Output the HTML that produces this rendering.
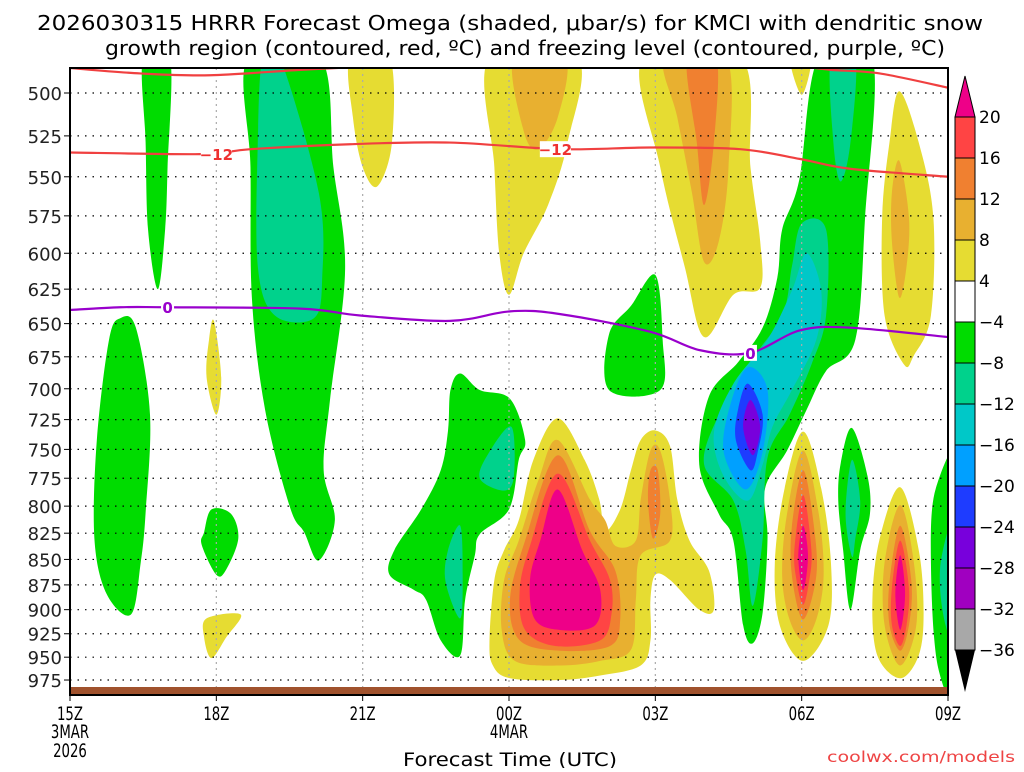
<!DOCTYPE html>
<html><head><meta charset="utf-8"><style>
body{margin:0;background:#fff;width:1024px;height:768px;overflow:hidden;font-family:"DejaVu Sans","Liberation Sans",sans-serif}
svg text{font-family:"DejaVu Sans","Liberation Sans",sans-serif}
</style></head><body>
<svg id="chart" width="1024" height="768" viewBox="0 0 1024 768" xmlns="http://www.w3.org/2000/svg">
<text x="37" y="30" font-size="20" textLength="946" lengthAdjust="spacingAndGlyphs" fill="#000">2026030315 HRRR Forecast Omega (shaded, μbar/s) for KMCI with dendritic snow</text>
<text x="105" y="55" font-size="20" textLength="840" lengthAdjust="spacingAndGlyphs" fill="#000">growth region (contoured, red, ºC) and freezing level (contoured, purple, ºC)</text>
<defs><clipPath id="plotclip"><rect x="70" y="68" width="878" height="627"/></clipPath></defs>
<g id="fills" clip-path="url(#plotclip)"></g>
<g id="grid"></g>
<g id="lines" clip-path="url(#plotclip)"></g>
<rect x="70" y="687" width="878" height="8" fill="#a0522d"/>
<rect x="70" y="68" width="878" height="627" fill="none" stroke="#000" stroke-width="2"/>
<g id="axes"></g>
<g id="cbar"></g>
<text x="403" y="766" font-size="19" textLength="214" lengthAdjust="spacingAndGlyphs" fill="#000">Forecast Time (UTC)</text>
<text x="827" y="762" font-size="15" textLength="188" lengthAdjust="spacingAndGlyphs" fill="#ee4444">coolwx.com/models</text>
</svg>
<script>
// ---- data (hours since 15Z, pressure hPa) ----
const pressureTicks=[500,525,550,575,600,625,650,675,700,725,750,775,800,825,850,875,900,925,950,975];
const timeTickHours=[0,3,6,9,12,15,18];
const timeTickLabels=["15Z","18Z","21Z","00Z","03Z","06Z","09Z"];
const levelColors={g1:"#00dc00",g2:"#00d28c",g3:"#00c8c8",g4:"#00a0ff",g5:"#1e3cff",g6:"#7800dc",y1:"#e6dc32",y2:"#e8b030",y3:"#f08030",y4:"#ff4444",y5:"#ee0088"};
const cbarLabels=["20","16","12","8","4","−4","−8","−12","−16","−20","−24","−28","−32","−36"];
const cbarColors=["#ff4444","#f08030","#e8b030","#e6dc32","#ffffff","#00dc00","#00d28c","#00c8c8","#00a0ff","#1e3cff","#7800dc","#a000c0","#a8a8a8"];
const blobLevels=["g1","g1","g2","g1","y1","g1","y1","y1","y1","y2","y1","y2","y3","y1","y1","y2",
"g1","g2","g2","g3","g4","g5","g6","g1","g1","g2","g2",
"y1","y2","y3","y4","y5","y3",
"y1","y2","y3","y4","y5","y1","y2","y3","y4","y5","g1","g2","g1","g2"];
const blobShapes=[
[[1.5,480],[2.05,480],[2.0,544],[1.95,584],[1.8,625],[1.6,584],[1.55,529]],
[[3.65,480],[5.13,480],[5.4,544],[5.64,611],[5.33,709],[5.2,768],[5.43,813],[5.1,851],[4.8,824],[4.51,801],[4.0,717],[3.73,632],[3.7,544]],
[[3.95,480],[4.3,480],[5.1,560],[5.17,617],[5.0,646],[4.2,644],[3.85,609],[3.85,529]],
[[1.03,646],[1.35,653],[1.64,721],[1.55,806],[1.45,853],[1.25,905],[0.75,884],[0.5,830],[0.55,742],[0.8,662]],
[[2.95,648],[3.1,691],[3.0,721],[2.8,691],[2.85,662]],
[[2.9,803],[3.3,807],[3.45,830],[3.2,860],[3.0,865],[2.7,836],[2.75,824]],
[[2.8,909],[3.5,905],[3.2,929],[2.9,951],[2.75,929]],
[[5.75,480],[6.55,480],[6.6,529],[6.3,556],[6.0,544],[5.8,514]],
[[8.6,480],[10.4,480],[10.2,529],[9.8,568],[9.3,600],[9.0,629],[8.8,600],[8.7,544]],
[[9.1,480],[10.15,480],[10.0,514],[9.6,533],[9.3,522]],
[[11.75,480],[13.75,480],[13.95,544],[14.15,592],[14.15,624],[13.6,629],[13.0,660],[12.6,609],[12.1,544]],
[[12.2,480],[13.45,480],[13.5,544],[13.3,592],[13.0,606],[12.75,560],[12.45,514]],
[[12.65,480],[13.25,480],[13.2,529],[13.0,568],[12.85,529]],
[[14.75,478],[15.2,478],[15.0,501]],
[[17.0,499],[17.4,529],[17.7,576],[17.65,644],[17.3,674],[17.1,681],[16.7,644],[16.65,576],[16.8,529]],
[[17.0,540],[17.2,576],[17.15,609],[17.0,631],[16.85,592],[16.85,560]],
[[15.35,480],[16.45,480],[16.3,576],[16.1,662],[15.5,686],[15.1,717],[14.7,751],[14.25,784],[14.3,830],[14.2,903],[14.0,935],[13.8,916],[13.6,832],[13.3,807],[12.9,763],[13.1,706],[13.7,679],[14.2,653],[14.5,617],[14.6,584],[14.95,552]],
[[15.6,480],[16.1,480],[16.0,529],[15.8,553],[15.65,529]],
[[15.0,580],[15.5,584],[15.5,644],[15.2,681],[14.75,721],[14.3,757],[14.2,830],[14.0,896],[13.85,841],[13.6,795],[13.0,763],[13.3,721],[13.9,681],[14.6,644],[14.8,609]],
[[15.1,600],[15.4,626],[15.3,662],[14.8,701],[14.4,731],[14.2,763],[13.9,795],[13.4,773],[13.2,736],[13.6,696],[14.3,662],[14.8,626]],
[[13.9,683],[14.3,701],[14.2,752],[13.85,785],[13.4,752],[13.55,711]],
[[13.9,696],[14.2,721],[14.1,752],[13.95,768],[13.65,742],[13.7,716]],
[[13.95,709],[14.15,731],[14.0,755],[13.8,731]],
[[12.0,615],[12.15,662],[12.1,701],[11.05,701],[11.05,658],[11.5,637]],
[[8.0,688],[8.4,701],[9.02,708],[9.33,742],[9.2,759],[9.0,803],[8.4,826],[8.3,846],[8.1,890],[8.0,948],[7.6,932],[7.3,890],[7.05,880],[6.55,865],[6.65,841],[7.2,803],[7.6,768],[7.75,734],[7.8,701]],
[[9.05,731],[9.1,773],[8.9,786],[8.4,775],[8.6,752]],
[[8.0,818],[8.05,865],[8.0,909],[7.7,872],[7.75,841]],
[[10.0,724],[10.55,759],[10.85,794],[10.97,823],[11.28,803],[11.5,768],[11.7,742],[12.0,734],[12.3,747],[12.45,794],[12.7,832],[13.1,861],[13.2,900],[12.9,900],[12.3,870],[12.0,865],[11.9,890],[11.9,932],[11.7,959],[10.87,970],[10.05,975],[9.02,973],[8.67,959],[8.6,932],[8.7,870],[8.9,841],[9.2,813],[9.5,759]],
[[10.0,742],[10.66,794],[10.97,813],[11.18,837],[11.6,832],[11.7,794],[11.9,751],[12.1,751],[12.3,794],[12.3,832],[11.7,846],[11.6,890],[11.5,942],[10.87,954],[10.05,959],[9.12,954],[8.85,921],[8.9,870],[9.2,832],[9.6,777]],
[[10.0,755],[10.66,823],[11.18,861],[11.28,910],[11.07,938],[10.05,943],[9.22,932],[9.02,890],[9.33,832]],
[[10.0,771],[10.66,832],[11.07,870],[11.1,905],[10.87,932],[9.95,938],[9.33,921],[9.22,880],[9.43,837]],
[[10.0,785],[10.5,841],[10.87,880],[10.77,916],[10.05,921],[9.53,910],[9.43,870],[9.64,832]],
[[12.05,768],[12.1,807],[11.95,830],[11.85,795],[11.9,768]],
[[15.03,735],[15.4,784],[15.6,853],[15.55,916],[15.03,954],[14.55,916],[14.45,853],[14.65,784]],
[[15.03,751],[15.35,807],[15.45,866],[15.3,910],[15.03,932],[14.75,910],[14.6,866],[14.7,807]],
[[15.03,768],[15.25,818],[15.3,866],[15.03,910],[14.8,866],[14.8,818]],
[[15.03,790],[15.2,841],[15.15,872],[15.03,895],[14.9,872],[14.85,841]],
[[15.03,818],[15.13,847],[15.03,880],[14.93,847]],
[[17.02,783],[17.4,841],[17.5,903],[17.4,948],[17.02,973],[16.55,948],[16.45,890],[16.6,830]],
[[17.02,799],[17.3,853],[17.35,916],[17.02,959],[16.7,916],[16.7,853]],
[[17.02,818],[17.25,872],[17.2,916],[17.02,943],[16.8,916],[16.8,872]],
[[17.02,832],[17.2,878],[17.15,916],[17.02,938],[16.85,916],[16.85,878]],
[[17.02,846],[17.12,884],[17.02,921],[16.92,884]],
[[16.03,732],[16.35,773],[16.4,807],[16.2,841],[16.0,900],[15.85,841],[15.75,795],[15.8,762]],
[[16.03,759],[16.2,795],[16.1,830],[16.03,847],[15.9,807]],
[[18.3,757],[18.3,995],[17.8,962],[17.65,853],[17.75,784]],
[[18.3,795],[18.3,942],[17.95,916],[17.85,853]]
];
const freezingLine=[[0,640],[1.03,638],[1.95,638],[4.72,639],[5.95,644],[7.79,648],[9.02,641],[10.05,643],[11.89,656],[12.92,670],[13.94,672],[14.97,655],[15.99,653],[18,660]];
const dgzLine=[[0,535],[2.67,536],[3.7,533],[5.74,530],[7.79,529],[10.05,533],[11.89,532],[13.74,533],[14.97,539],[15.99,545],[18,550]];
const dgzTopLineA=[[0,486],[1.44,489],[2.87,490],[4.72,487],[6.2,485]];
const dgzTopLineB=[[15.0,485],[15.6,487],[16.6,489],[18,497]];
const contourLabels=[{t:"−12",h:3.0,p:536,c:"#ee3030"},{t:"−12",h:9.95,p:533,c:"#ee3030"},{t:"0",h:2.0,p:638,c:"#9900cc"},{t:"0",h:13.95,p:672,c:"#9900cc"}];

// ---- axis functions (log-pressure vertical) ----
const X=h=>70+h*(878/18);
const Y=p=>93+879*Math.log(p/500);
const NS="http://www.w3.org/2000/svg";
function mk(tag,attrs,parent){const e=document.createElementNS(NS,tag);for(const k in attrs)e.setAttribute(k,attrs[k]);parent.appendChild(e);return e;}
function smoothClosed(pts){
  const P=pts.map(q=>[X(q[0]),Y(q[1])]);const n=P.length;let d=`M${P[0][0]},${P[0][1]}`;
  for(let i=0;i<n;i++){const p0=P[(i-1+n)%n],p1=P[i],p2=P[(i+1)%n],p3=P[(i+2)%n];
    d+=`C${p1[0]+(p2[0]-p0[0])/6},${p1[1]+(p2[1]-p0[1])/6} ${p2[0]-(p3[0]-p1[0])/6},${p2[1]-(p3[1]-p1[1])/6} ${p2[0]},${p2[1]}`;}
  return d+"Z";}
function smoothOpen(pts){
  const P=pts.map(q=>[X(q[0]),Y(q[1])]);const n=P.length;let d=`M${P[0][0]},${P[0][1]}`;
  for(let i=0;i<n-1;i++){const p0=P[Math.max(i-1,0)],p1=P[i],p2=P[i+1],p3=P[Math.min(i+2,n-1)];
    d+=`C${p1[0]+(p2[0]-p0[0])/6},${p1[1]+(p2[1]-p0[1])/6} ${p2[0]-(p3[0]-p1[0])/6},${p2[1]-(p3[1]-p1[1])/6} ${p2[0]},${p2[1]}`;}
  return d;}

const fills=document.getElementById('fills');
blobShapes.forEach((s,i)=>{
  const el=mk('path',{d:smoothClosed(s),fill:levelColors[blobLevels[i]]},fills);
  
  
});

const grid=document.getElementById('grid');
pressureTicks.forEach(p=>{
  const el=mk('line',{x1:70,x2:948,y1:Y(p),y2:Y(p),stroke:"#000","stroke-width":1.2,"stroke-dasharray":"1.5 6"},grid);
  
  
});
timeTickHours.slice(1,-1).forEach(h=>{
  const el=mk('line',{x1:X(h),x2:X(h),y1:68,y2:687,stroke:"#aaa","stroke-width":1.2,"stroke-dasharray":"2 4"},grid);
  
  
});

const lines=document.getElementById('lines');
[[dgzLine,"#f04040"],[dgzTopLineA,"#f04040"],[dgzTopLineB,"#f04040"],[freezingLine,"#9900cc"]].forEach(([l,c])=>{
  const el=mk('path',{d:smoothOpen(l),fill:"none",stroke:c,"stroke-width":2.2},lines);
  
  
});
contourLabels.forEach(L=>{
  const w=L.t.length*9+4;
  const r=mk('rect',{x:X(L.h)-w/2,y:Y(L.p)-8,width:w,height:16,fill:"#fff"},lines);
  
  
  const t=mk('text',{x:X(L.h),y:Y(L.p)+6,"font-size":15,"font-weight":"bold","text-anchor":"middle",fill:L.c},lines);
  t.textContent=L.t;
  
  
});

const axes=document.getElementById('axes');
pressureTicks.forEach(p=>{
  const t=mk('text',{x:62,y:Y(p)+7,"font-size":18,"text-anchor":"end",fill:"#222"},axes);
  t.textContent=p;
  
  
  const k=mk('line',{x1:64,x2:70,y1:Y(p),y2:Y(p),stroke:"#000"},axes);
  
  
});
const cond=(x)=>`translate(${x},0) scale(0.7,1) translate(${-x},0)`;
timeTickHours.forEach((h,i)=>{
  const t=mk('text',{x:X(h),y:720,"font-size":19,"text-anchor":"middle",fill:"#000",transform:cond(X(h))},axes);
  t.textContent=timeTickLabels[i];
  
  
  const k=mk('line',{x1:X(h),x2:X(h),y1:695,y2:701,stroke:"#000"},axes);
  
  
});
[["3MAR",0,738],["2026",0,757],["4MAR",9,738]].forEach(([s,h,y])=>{
  const t=mk('text',{x:X(h),y:y,"font-size":19,"text-anchor":"middle",fill:"#000",transform:cond(X(h))},axes);
  t.textContent=s;
  
  
});

const cbar=document.getElementById('cbar');
const cx=955,cw=20,ctop=117,ch=(650-117)/13;
let tri=mk('polygon',{points:`${cx},${ctop} ${cx+cw},${ctop} ${cx+cw/2},76`,fill:"#ee0088",stroke:"#000"},cbar);


cbarColors.forEach((c,i)=>{
  const r=mk('rect',{x:cx,y:ctop+i*ch,width:cw,height:ch,fill:c,stroke:"#000"},cbar);
  
  
});
tri=mk('polygon',{points:`${cx},650 ${cx+cw},650 ${cx+cw/2},692`,fill:"#000"},cbar);


cbarLabels.forEach((s,i)=>{
  const t=mk('text',{x:979,y:ctop+i*ch+6,"font-size":17,fill:"#000"},cbar);
  t.textContent=s;
  
  
});
</script>
</body></html>
